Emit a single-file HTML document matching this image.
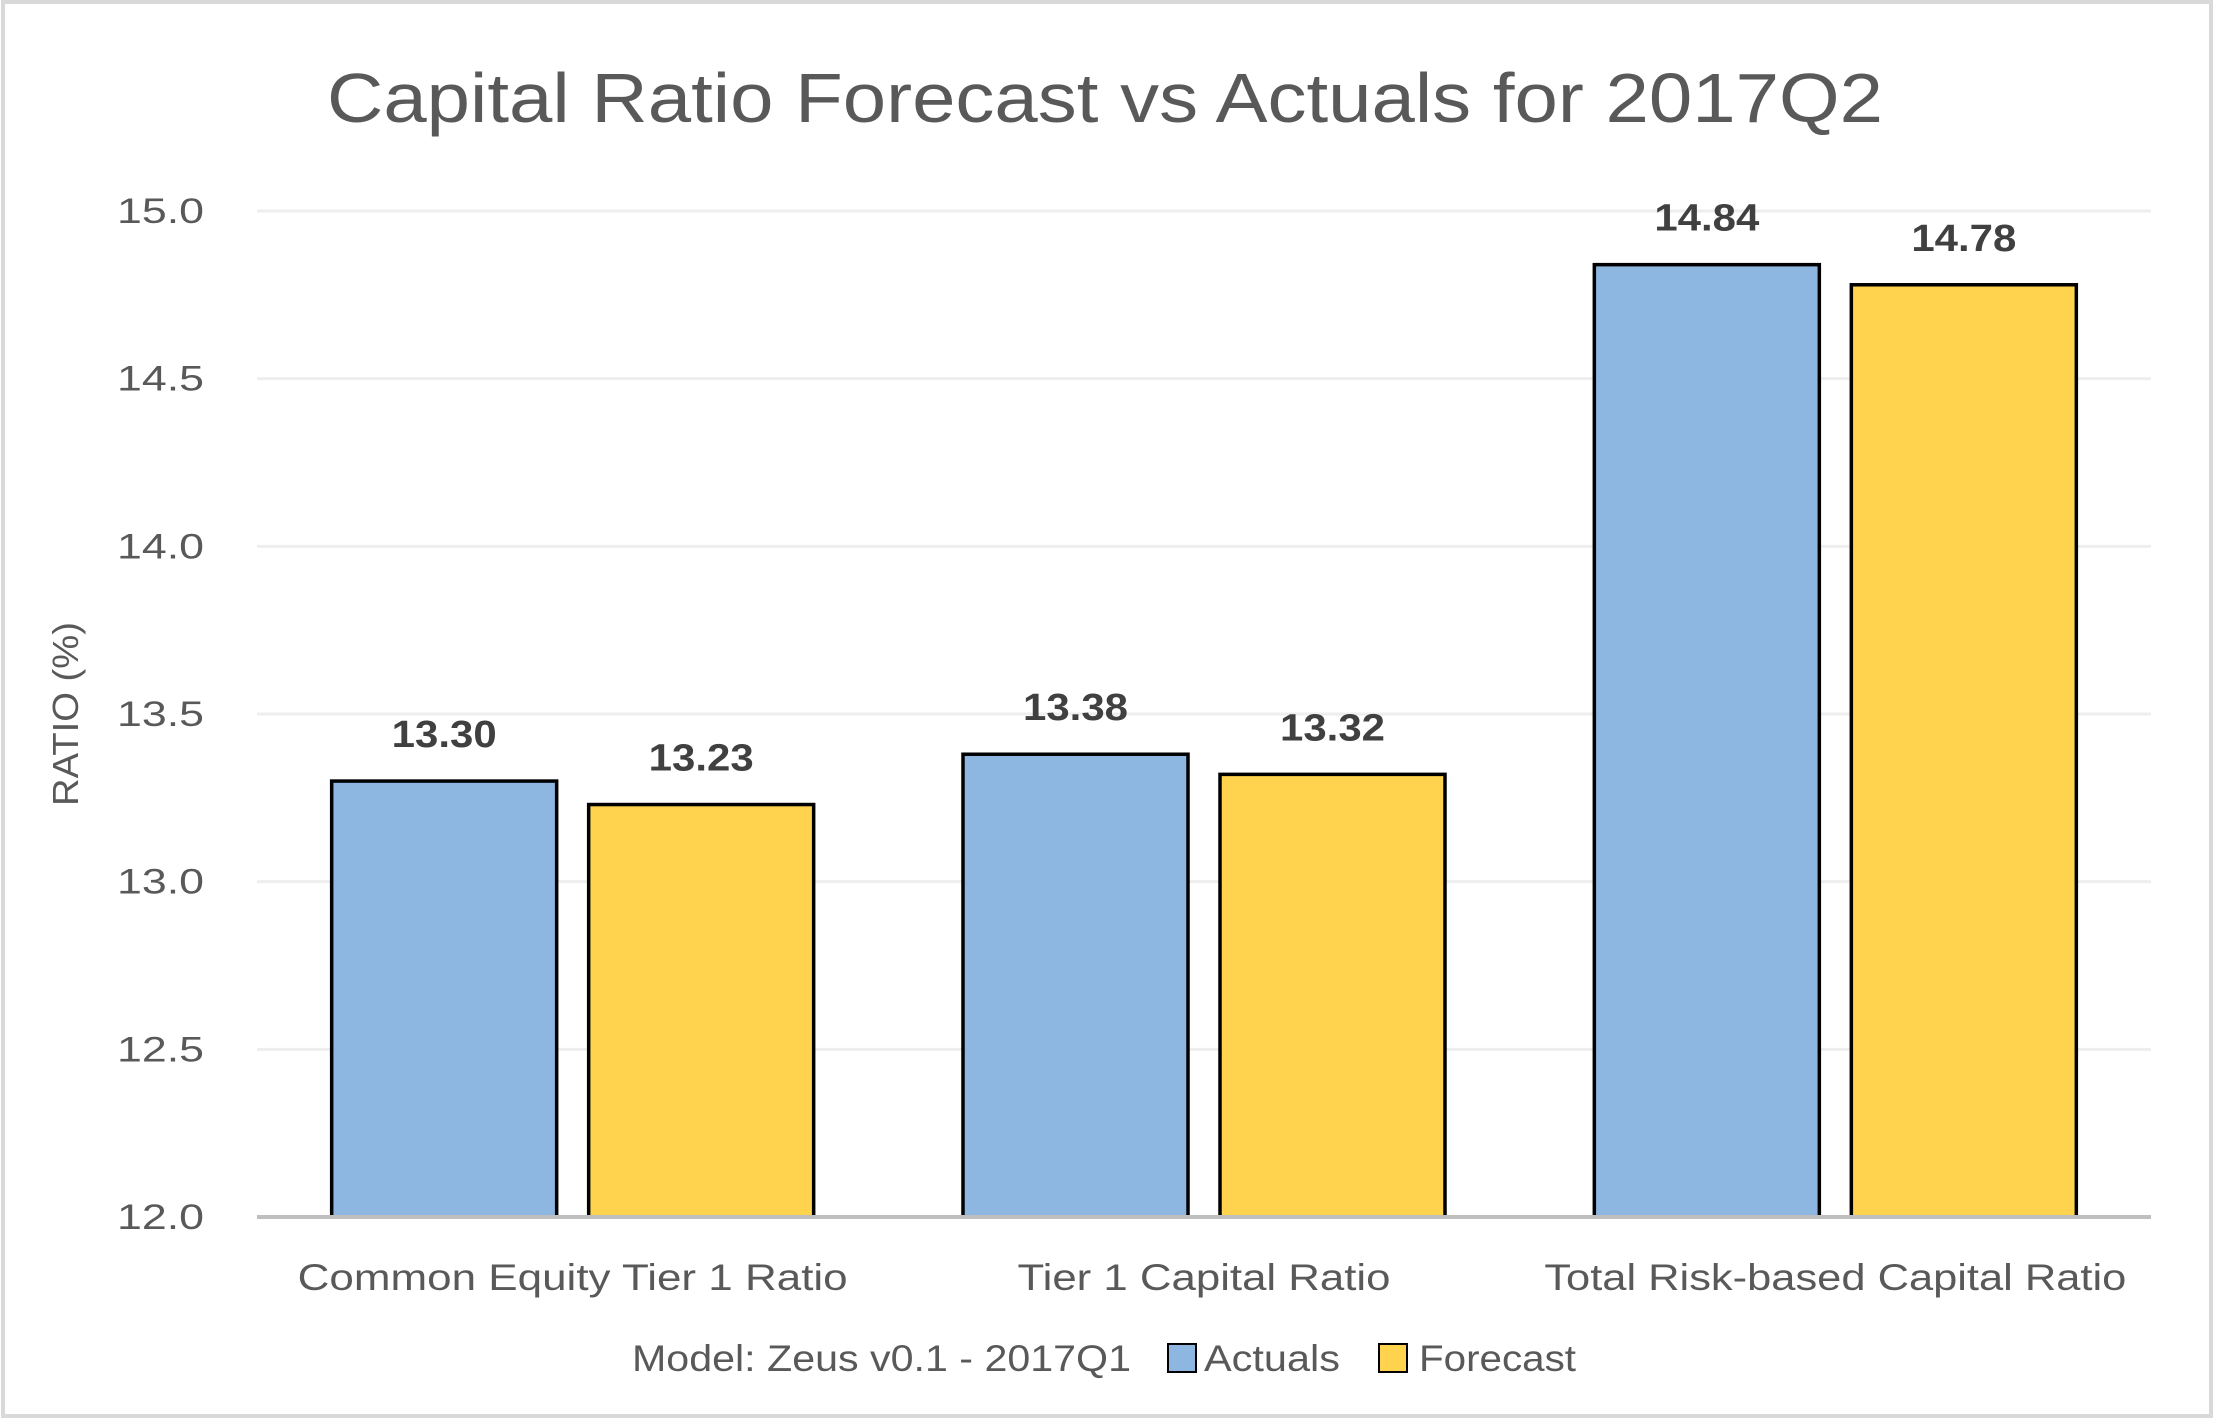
<!DOCTYPE html>
<html><head><meta charset="utf-8"><style>
html,body{margin:0;padding:0;background:#fff;}
svg{display:block;font-family:"Liberation Sans",sans-serif;}
</style></head><body>
<svg id="chart" width="2216" height="1420" viewBox="0 0 2216 1420">
<rect x="3" y="2" width="2208" height="1414" fill="#fff" stroke="#d9d9d9" stroke-width="4"/>
<text x="1105" y="122" text-anchor="middle" font-size="70" fill="#595959" textLength="1556" lengthAdjust="spacingAndGlyphs">Capital Ratio Forecast vs Actuals for 2017Q2</text>
<g id="grid"></g>
<g id="yticks"></g>
<text transform="translate(78,714) rotate(-90)" text-anchor="middle" font-size="36" fill="#595959" textLength="184" lengthAdjust="spacingAndGlyphs">RATIO (%)</text>
<g id="bars"></g>
<g id="xlabels"></g>
<g>
<text x="632" y="1371" font-size="37" fill="#595959" textLength="499" lengthAdjust="spacingAndGlyphs">Model: Zeus v0.1 - 2017Q1</text>
<rect x="1168" y="1344" width="28" height="28" fill="#8DB7E0" stroke="#000" stroke-width="2"/>
<text x="1204" y="1371" font-size="37" fill="#595959" textLength="136" lengthAdjust="spacingAndGlyphs">Actuals</text>
<rect x="1379" y="1344" width="28" height="28" fill="#FFD34E" stroke="#000" stroke-width="2"/>
<text x="1419" y="1371" font-size="37" fill="#595959" textLength="157" lengthAdjust="spacingAndGlyphs">Forecast</text>
</g>
</svg>
<script>
const categories = ["Common Equity Tier 1 Ratio", "Tier 1 Capital Ratio", "Total Risk-based Capital Ratio"];
const actuals = [13.30, 13.38, 14.84];
const forecast = [13.23, 13.32, 14.78];
const yTicks = [12.0, 12.5, 13.0, 13.5, 14.0, 14.5, 15.0];
const NS = "http://www.w3.org/2000/svg";
const L = 257, R = 2151, T = 211, B = 1217, yMin = 12, yMax = 15;
const y = v => B - (v - yMin) / (yMax - yMin) * (B - T);
const bandW = (R - L) / categories.length;
const barW = 225, gap = 32;
function mk(tag, attrs, parent){const e=document.createElementNS(NS,tag);for(const k in attrs)e.setAttribute(k,attrs[k]);parent.appendChild(e);return e;}
const grid = document.getElementById('grid'), yt = document.getElementById('yticks'), bars = document.getElementById('bars'), xl = document.getElementById('xlabels');
yTicks.forEach(t => {
  if (t !== yMin) {
    const g = mk('line', {x1:L, x2:R, y1:y(t), y2:y(t), stroke:'#eeeeee', 'stroke-width':3}, grid);
    
    
  }
  const tx = mk('text', {x:204, y:y(t)+12, 'text-anchor':'end', 'font-size':35, fill:'#595959', textLength:87, lengthAdjust:'spacingAndGlyphs'}, yt);
  tx.textContent = t.toFixed(1);
  
  
});
const labelWidths = [550, 373, 582];
categories.forEach((c, i) => {
  const cx = L + bandW * (i + 0.5);
  const series = [[actuals[i], '#8DB7E0', 'actuals'], [forecast[i], '#FFD34E', 'forecast']];
  series.forEach((s, j) => {
    const x0 = j === 0 ? cx - gap/2 - barW : cx + gap/2;
    const r = mk('rect', {x:x0, y:y(s[0]), width:barW, height:B - y(s[0]), fill:s[1], stroke:'#000', 'stroke-width':3.5}, bars);
    
    
    const lb = mk('text', {x:x0 + barW/2, y:y(s[0]) - 34, 'text-anchor':'middle', 'font-size':38, 'font-weight':'bold', fill:'#404040', textLength:105, lengthAdjust:'spacingAndGlyphs'}, bars);
    lb.textContent = s[0].toFixed(2);
    
    
  });
  const t = mk('text', {x:cx, y:1290, 'text-anchor':'middle', 'font-size':37, fill:'#595959', textLength:labelWidths[i], lengthAdjust:'spacingAndGlyphs'}, xl);
  t.textContent = c;
  
  
});
const ax = mk('line', {x1:L, x2:R, y1:B, y2:B, stroke:'#bfbfbf', 'stroke-width':4}, bars);


</script>
</body></html>
